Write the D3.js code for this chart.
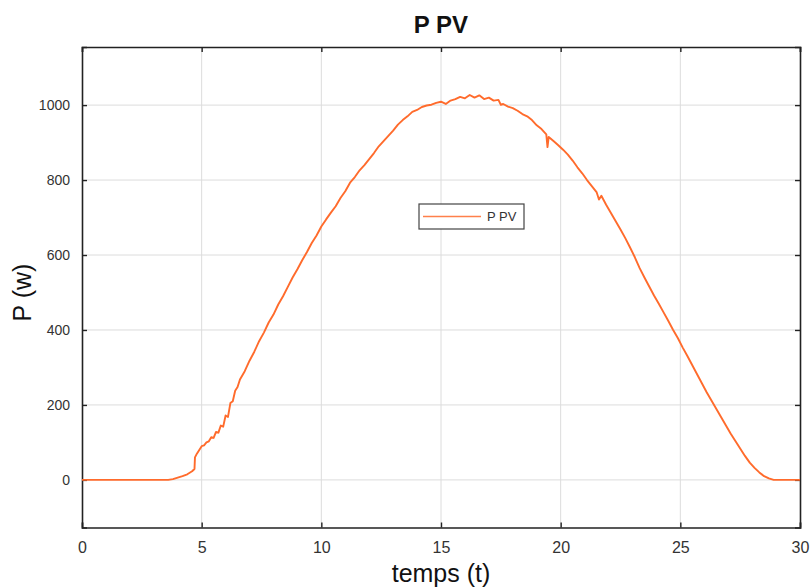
<!DOCTYPE html>
<html>
<head>
<meta charset="utf-8">
<script src="https://cdn.jsdelivr.net/npm/d3@7"></script>
<style>
  html, body { margin: 0; padding: 0; background: #fff; }
  svg { display: block; font-family: "Liberation Sans", Arial, Helvetica, sans-serif; }
</style>
</head>
<body>
<svg id="chart" width="812" height="588"></svg>
<script>
// ---- data ----
const title = "P PV";
const xLabel = "temps (t)";
const yLabel = "P (w)";
const seriesName = "P PV";
const xTicks = [0, 5, 10, 15, 20, 25, 30];
const yTicks = [0, 200, 400, 600, 800, 1000];
const xDomain = [0, 30];
const yDomain = [-127, 1155];

const timeValues = [
  0, 3.6, 3.8, 4.0, 4.2, 4.4, 4.6, 4.70, 4.72, 4.8, 4.9, 5.0, 5.1, 5.2, 5.3, 5.4, 5.5, 5.6, 5.7, 5.8,
  5.9, 6.0, 6.1, 6.2, 6.3, 6.4, 6.5, 6.6, 6.8, 7.0, 7.2, 7.4, 7.6, 7.8, 8.0, 8.2, 8.4, 8.6, 8.8, 9.0,
  9.2, 9.4, 9.6, 9.8, 10.0, 10.2, 10.4, 10.6, 10.8, 11.0, 11.2, 11.4, 11.6, 11.8, 12.0, 12.2, 12.4, 12.6, 12.8, 13.0,
  13.2, 13.4, 13.6, 13.8, 14.0, 14.2, 14.4, 14.6, 14.8, 15.0, 15.2, 15.4, 15.6, 15.8, 16.0, 16.2, 16.4, 16.6, 16.8, 17.0,
  17.2, 17.4, 17.5, 17.6, 17.8, 18.0, 18.2, 18.4, 18.6, 18.8, 19.0, 19.2, 19.4, 19.45, 19.5, 19.7, 19.9, 20.1, 20.3, 20.5,
  20.7, 20.9, 21.1, 21.3, 21.5, 21.6, 21.7, 21.9, 22.1, 22.3, 22.5, 22.7, 22.9, 23.1, 23.3, 23.5, 23.7, 23.9, 24.1, 24.3,
  24.5, 24.7, 24.9, 25.1, 25.3, 25.5, 25.7, 25.9, 26.1, 26.3, 26.5, 26.7, 26.9, 27.1, 27.3, 27.5, 27.7, 27.9, 28.1, 28.3,
  28.5, 28.7, 28.9, 30
];
const powerValues = [
  0, 0, 2, 6, 10, 15, 23, 29, 60, 70, 80, 90, 92, 100, 103, 114, 112, 128, 126, 145,
  142, 172, 168, 205, 210, 238, 248, 268, 290, 318, 342, 370, 393, 420, 441, 468, 490, 515, 540, 562,
  586, 608, 632, 652, 676, 695, 713, 730, 752, 770, 793, 808, 826, 840, 856, 872, 890, 904, 918, 932,
  948, 960, 970, 982, 987, 995, 999, 1001, 1006, 1009, 1003, 1012, 1016, 1022, 1018, 1027, 1020, 1026, 1016, 1020,
  1012, 1014, 1001, 1003, 996, 992, 985, 976, 970, 960, 946, 936, 922, 888, 915, 904, 893, 881, 868, 852,
  834, 818, 800, 784, 768, 748, 758, 734, 712, 690, 668, 645, 620, 594, 565, 540, 516, 492, 470, 447,
  424, 400, 378, 353, 330, 306, 282, 258, 234, 212, 190, 168, 146, 124, 104, 84, 64, 46, 32, 20,
  10, 4, 0, 0
];

// ---- layout ----
const margin = { left: 82, right: 12, top: 47, bottom: 60.5 };
const W = 812, H = 588;
const iw = W - margin.left - margin.right;
const ih = H - margin.top - margin.bottom;
const lineColor = "#ff6b2c";

const svg = d3.select("#chart");
const g = svg.append("g").attr("transform", `translate(${margin.left},${margin.top})`);

const x = d3.scaleLinear().domain(xDomain).range([0, iw]);
const y = d3.scaleLinear().domain(yDomain).range([ih, 0]);

// grid
g.append("g").selectAll("line.vx").data(xTicks.slice(1, -1)).join("line")
  .attr("x1", d => x(d)).attr("x2", d => x(d)).attr("y1", 0).attr("y2", ih)
  .attr("stroke", "#dcdcdc").attr("stroke-width", 1);
g.append("g").selectAll("line.hy").data(yTicks).join("line")
  .attr("x1", 0).attr("x2", iw).attr("y1", d => y(d)).attr("y2", d => y(d))
  .attr("stroke", "#dcdcdc").attr("stroke-width", 1);

// axes (inward ticks on all sides)
const tk = 5;
const axB = g.append("g").attr("transform", `translate(0,${ih})`)
  .call(d3.axisBottom(x).tickValues(xTicks).tickSize(-tk).tickPadding(14).tickFormat(d3.format("d")));
const axT = g.append("g")
  .call(d3.axisTop(x).tickValues(xTicks).tickSize(-tk).tickFormat(""));
const axL = g.append("g")
  .call(d3.axisLeft(y).tickValues(yTicks).tickSize(-tk).tickPadding(12).tickFormat(d3.format("d")));
const axR = g.append("g").attr("transform", `translate(${iw},0)`)
  .call(d3.axisRight(y).tickValues(yTicks).tickSize(-tk).tickFormat(""));

[axB, axT, axL, axR].forEach(a => {
  a.select(".domain").attr("stroke", "#222").attr("stroke-width", 1.6);
  a.selectAll(".tick line").attr("stroke", "#222").attr("stroke-width", 1.4);
  a.selectAll("text").attr("fill", "#333").attr("font-family", "'Liberation Sans', Arial, sans-serif");
});
axB.selectAll("text").attr("font-size", 16);
axL.selectAll("text").attr("font-size", 14);

// line
const pts = timeValues.map((t, i) => [t, powerValues[i]]);
g.append("path").datum(pts)
  .attr("fill", "none").attr("stroke", lineColor).attr("stroke-width", 1.9)
  .attr("stroke-linejoin", "round")
  .attr("d", d3.line().x(d => x(d[0])).y(d => y(d[1])));

// legend
const lg = svg.append("g").attr("transform", "translate(419,204)");
lg.append("rect").attr("width", 105).attr("height", 25)
  .attr("fill", "#fff").attr("stroke", "#444").attr("stroke-width", 1.2);
lg.append("line").attr("x1", 4).attr("x2", 62).attr("y1", 12.5).attr("y2", 12.5)
  .attr("stroke", lineColor).attr("stroke-width", 1.5).attr("opacity", 0.85);
lg.append("text").attr("x", 68).attr("y", 17).attr("font-size", 13).attr("fill", "#333")
  .text(seriesName);

// title & labels
svg.append("text").attr("x", margin.left + iw / 2).attr("y", 33)
  .attr("text-anchor", "middle").attr("font-size", 24).attr("font-weight", "bold").attr("fill", "#111")
  .text(title);
svg.append("text").attr("x", margin.left + iw / 2).attr("y", 582)
  .attr("text-anchor", "middle").attr("font-size", 25).attr("fill", "#111")
  .text(xLabel);
svg.append("text").attr("transform", `translate(31,${margin.top + y(500)}) rotate(-90)`)
  .attr("text-anchor", "middle").attr("font-size", 25).attr("fill", "#111")
  .text(yLabel);
</script>
</body>
</html>
